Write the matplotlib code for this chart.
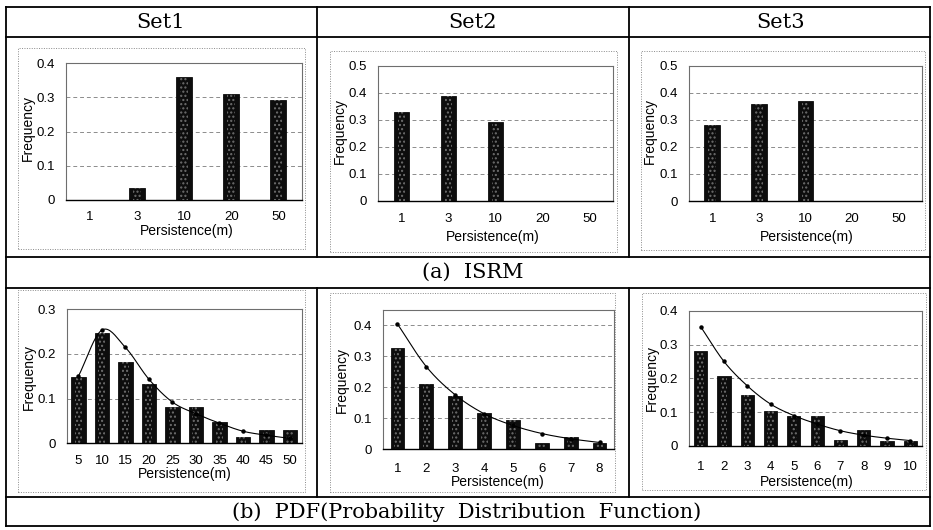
import numpy as np
import matplotlib
matplotlib.use("Agg")
import matplotlib.pyplot as plt
from matplotlib.lines import Line2D
from matplotlib.patches import Rectangle

# ---------------- data ----------------
isrm_cats = ["1", "3", "10", "20", "50"]
isrm_set1 = [0.0, 0.035, 0.358, 0.310, 0.293]
isrm_set2 = [0.330, 0.387, 0.291, 0.0, 0.0]
isrm_set3 = [0.281, 0.358, 0.369, 0.0, 0.0]

pdf1_cats = ["5", "10", "15", "20", "25", "30", "35", "40", "45", "50"]
pdf1_bars = [0.149, 0.247, 0.181, 0.132, 0.082, 0.081, 0.048, 0.015, 0.030, 0.030]
pdf1_fit = [0.150, 0.253, 0.214, 0.143, 0.092, 0.066, 0.045, 0.027, 0.018, 0.011]

pdf2_cats = ["1", "2", "3", "4", "5", "6", "7", "8"]
pdf2_bars = [0.327, 0.211, 0.173, 0.116, 0.096, 0.020, 0.040, 0.020]
pdf2_fit = [0.405, 0.267, 0.176, 0.115, 0.077, 0.051, 0.034, 0.022]

pdf3_cats = ["1", "2", "3", "4", "5", "6", "7", "8", "9", "10"]
pdf3_bars = [0.282, 0.206, 0.150, 0.104, 0.089, 0.089, 0.017, 0.046, 0.015, 0.015]
pdf3_fit = [0.353, 0.250, 0.178, 0.124, 0.090, 0.065, 0.045, 0.032, 0.023, 0.016]

yticks_a = [0, 0.1, 0.2, 0.3, 0.4]
yticks_a5 = [0, 0.1, 0.2, 0.3, 0.4, 0.5]
yticks_b3 = [0, 0.1, 0.2, 0.3]

set_titles = ["Set1", "Set2", "Set3"]
row_a_title = "(a)  ISRM"
row_b_title = "(b)  PDF(Probability  Distribution  Function)"
xlabel = "Persistence(m)"
ylabel = "Frequency"

# ---------------- layout helpers ----------------
W, H = 933, 530
fig = plt.figure(figsize=(W / 100, H / 100), dpi=100)
fig.patch.set_facecolor("white")

SANS = "Liberation Sans"
SERIF = "DejaVu Serif"
TICK_FS = 9.5
LAB_FS = 10


def frac_rect(x0, y0, x1, y1):
    return [x0 / W, 1 - y1 / H, (x1 - x0) / W, (y1 - y0) / H]


def hline(y, x0, x1, lw=1.3):
    fig.add_artist(Line2D([x0 / W, x1 / W], [1 - y / H, 1 - y / H],
                          color="black", lw=lw, transform=fig.transFigure))


def vline(x, y0, y1, lw=1.3):
    fig.add_artist(Line2D([x / W, x / W], [1 - y0 / H, 1 - y1 / H],
                          color="black", lw=lw, transform=fig.transFigure))


def dotted_box(x0, y0, x1, y1):
    r = frac_rect(x0, y0, x1, y1)
    fig.add_artist(Rectangle((r[0], r[1]), r[2], r[3], transform=fig.transFigure,
                             fill=False, ls=(0, (1, 1.5)), lw=0.7, ec="#8a8a8a"))


def smooth(xs, ys, n=20):
    # Catmull-Rom rendering of the connecting line (drawing style only)
    xs = np.asarray(xs, float)
    ys = np.asarray(ys, float)
    P = np.column_stack([xs, ys])
    P = np.vstack([2 * P[0] - P[1], P, 2 * P[-1] - P[-2]])
    out = []
    for i in range(1, len(P) - 2):
        p0, p1, p2, p3 = P[i - 1], P[i], P[i + 1], P[i + 2]
        t = np.linspace(0, 1, n, endpoint=False)[:, None]
        seg = 0.5 * ((2 * p1) + (-p0 + p2) * t + (2 * p0 - 5 * p1 + 4 * p2 - p3) * t ** 2
                     + (-p0 + 3 * p1 - 3 * p2 + p3) * t ** 3)
        out.append(seg)
    out.append(P[-2][None, :])
    out = np.vstack(out)
    return out[:, 0], out[:, 1]


def make_panel(box, cats, vals, ymax, yticks, width, lab_x, lab_y, tick_y, fit=None):
    x0, y0, x1, y1 = box
    ax = fig.add_axes(frac_rect(x0, y0, x1, y1))
    pos = np.arange(len(cats))
    ax.set_xlim(-0.5, len(cats) - 0.5)
    ax.set_ylim(0, ymax)
    ax.set_yticks(yticks)
    ax.set_yticklabels(["0" if v == 0 else f"{v:.1f}" for v in yticks],
                       fontfamily=SANS, fontsize=TICK_FS)
    ax.set_xticks(pos)
    ax.set_xticklabels(cats, fontfamily=SANS, fontsize=TICK_FS)
    ax.tick_params(axis="both", length=0)
    ax.tick_params(axis="y", pad=8)
    axh = y1 - y0
    ax.tick_params(axis="x", pad=(tick_y - y1 - 6.5) * 0.72)
    for g in yticks:
        if 0 < g < ymax - 1e-9:
            ax.axhline(g, color="#8c8c8c", lw=0.7, ls=(0, (4, 3)), zorder=0)
    ax.bar(pos, vals, width=width, color="#0d0d0d", edgecolor="#0d0d0d", lw=0.6, zorder=2)
    ax.bar(pos, vals, width=width * 0.5, facecolor="none", edgecolor="#6f6f6f",
           lw=0, hatch="....", zorder=3)
    if fit is not None:
        sx, sy = smooth(pos, fit)
        ax.plot(sx, sy, color="black", lw=0.8, zorder=4)
        ax.plot(pos, fit, ls="none", marker="o", ms=2.2, color="black", zorder=5)
    for side in ["top", "right", "left"]:
        ax.spines[side].set_color("#6e6e6e")
        ax.spines[side].set_linewidth(0.8)
    ax.spines["bottom"].set_color("black")
    ax.spines["bottom"].set_linewidth(1.0)
    ax.set_ylabel(ylabel, fontfamily=SANS, fontsize=LAB_FS)
    ax.yaxis.set_label_coords((lab_x[0] - x0) / (x1 - x0), (y1 - lab_x[1]) / axh)
    ax.set_xlabel(xlabel, fontfamily=SANS, fontsize=LAB_FS)
    ax.xaxis.set_label_coords((lab_y[0] - x0) / (x1 - x0), (y1 - lab_y[1]) / axh)
    ax.xaxis.label.set_va("center")
    ax.yaxis.label.set_va("center")
    return ax


# ---------------- chart-area dotted boxes ----------------
for b in [(18, 48, 305, 249), (330, 51, 617, 252), (641, 51, 925, 250),
          (18, 290, 305, 492), (330, 293, 615, 492), (642, 293, 926, 490)]:
    dotted_box(*b)

# ---------------- panels ----------------
make_panel((66, 63, 302, 200), isrm_cats, isrm_set1, 0.4, yticks_a, 0.34,
           (28, 128), (187, 231), 217)
make_panel((378, 66, 613, 200.7), isrm_cats, isrm_set2, 0.5, yticks_a5, 0.34,
           (340, 131), (493, 237), 220)
make_panel((689, 65.7, 922, 201), isrm_cats, isrm_set3, 0.5, yticks_a5, 0.34,
           (650, 131), (807, 237), 220)

make_panel((66.7, 309, 301.7, 443.3), pdf1_cats, pdf1_bars, 0.3, yticks_b3, 0.6,
           (29, 377), (185, 474), 461, fit=pdf1_fit)
make_panel((383, 310, 614, 449.3), pdf2_cats, pdf2_bars, 0.45, yticks_a, 0.48,
           (342, 380), (498, 482), 469, fit=pdf2_fit)
make_panel((689, 310.7, 922, 446), pdf3_cats, pdf3_bars, 0.4, yticks_a, 0.57,
           (652, 378), (807, 482), 467, fit=pdf3_fit)

# ---------------- table lines ----------------
for y in [7, 37, 257, 288, 497, 526]:
    hline(y, 6, 930)
vline(6, 7, 526)
vline(930, 7, 526)
for x in [317, 629]:
    vline(x, 7, 257)
    vline(x, 288, 497)

# ---------------- table texts ----------------
for t, cx in zip(set_titles, [161, 472, 781]):
    fig.text(cx / W, 1 - 22 / H, t, ha="center", va="center",
             fontfamily=SERIF, fontsize=15)
fig.text(473 / W, 1 - 272.5 / H, row_a_title, ha="center", va="center",
         fontfamily=SERIF, fontsize=15)
fig.text(467 / W, 1 - 512 / H, row_b_title, ha="center", va="center",
         fontfamily=SERIF, fontsize=15)

fig.savefig("out.png", dpi=100, facecolor="white")
